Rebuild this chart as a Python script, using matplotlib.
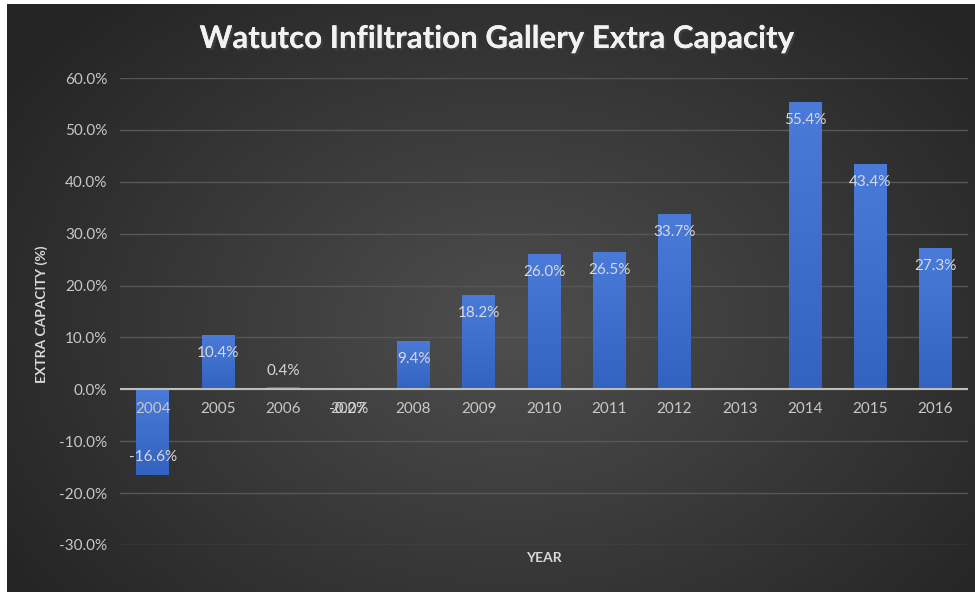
import numpy as np
import matplotlib
matplotlib.use("Agg")
import matplotlib.pyplot as plt
import matplotlib.patheffects as pe
from matplotlib.colors import LinearSegmentedColormap

years = ["2004", "2005", "2006", "2007", "2008", "2009", "2010",
         "2011", "2012", "2013", "2014", "2015", "2016"]
values = [-16.6, 10.4, 0.4, -0.2, 9.4, 18.2, 26.0, 26.5, 33.7, np.nan, 55.4, 43.4, 27.3]
yticks = [-30, -20, -10, 0, 10, 20, 30, 40, 50, 60]

plt.rcParams['font.family'] = ['Lato', 'DejaVu Sans']

W, H = 975, 592
fig = plt.figure(figsize=(W / 100, H / 100), dpi=100)
fig.patch.set_facecolor('white')

# background radial gradient
bg = fig.add_axes([7 / W, 0, 1 - 7 / W, 1 - 4 / H], zorder=-10)
bg.set_axis_off()
yy, xx = np.mgrid[0:1:300j, 0:1:500j]
r = np.sqrt(((xx - 0.52) / 0.62) ** 2 + ((yy - 0.45) / 0.75) ** 2)
r = np.clip(r, 0, 1)
shade = 0x4e / 255 * (1 - r) + 0x25 / 255 * r
img = np.dstack([shade, shade, shade])
bg.imshow(img, aspect='auto', extent=[0, 1, 0, 1], origin='lower')
bg.set_xlim(0, 1)
bg.set_ylim(0, 1)

left, right = 120 / W, 968 / W
top, bottom = 1 - 78 / H, 1 - 545 / H
ax = fig.add_axes([left, bottom, right - left, top - bottom])
ax.set_facecolor('none')

x = np.arange(len(years))
vals = np.array(values, dtype=float)
bars = ax.bar(x, np.nan_to_num(vals), width=0.5, color='#3f6fcc', zorder=3,
              edgecolor='none')

# gradient fill on bars
grad = np.linspace(0, 1, 100).reshape(-1, 1)
cmap = LinearSegmentedColormap.from_list('b', ['#3363c0', '#4a7bd8'])
for b, v in zip(bars, vals):
    if np.isnan(v) or v == 0:
        continue
    x0 = b.get_x()
    w = b.get_width()
    y0, y1 = min(0, v), max(0, v)
    im = ax.imshow(grad, extent=[x0, x0 + w, y0, y1], origin='lower',
                   cmap=cmap, aspect='auto', zorder=4)
    im.set_clip_path(b)

ax.set_xlim(-0.5, len(years) - 0.5)
ax.set_ylim(-30, 60)
ax.set_yticks(yticks)
ax.set_yticklabels([f"{t:.1f}%" for t in yticks])
ax.tick_params(axis='y', length=0, pad=9, labelsize=11, labelcolor='#c8c8c8')
ax.set_xticks([])
for s in ax.spines.values():
    s.set_visible(False)
ax.grid(axis='y', color='#575757', linewidth=1.0, zorder=0)
ax.axhline(0, color='#bdbdbd', linewidth=1.5, zorder=5)

# category labels near zero line
for xi, yr in zip(x, years):
    ax.annotate(yr, (xi, 0), xytext=(0, -20), textcoords='offset pixels',
                ha='center', va='center', fontsize=11, color='#c8c8c8', zorder=6)

# data labels
for xi, v in zip(x, vals):
    if np.isnan(v):
        continue
    if v >= 0:
        off = -18 if v > 3 else 16
    else:
        off = 18 if v < -3 else -19
    ax.annotate(f"{v:.1f}%", (xi, v), xytext=(0, off), textcoords='offset pixels',
                ha='center', va='center', fontsize=11, color='#d9d9d9', zorder=7)

fig.text(497 / W, 1 - 39 / H, "Watutco Infiltration Gallery Extra Capacity",
         ha='center', va='center', fontsize=22.5, fontweight='bold', color='#f2f2f2',
         path_effects=[pe.withSimplePatchShadow(offset=(1.5, -1.5), alpha=0.6),
                       pe.Normal()])
fig.text(42 / W, 1 - 314 / H, "EXTRA CAPACITY (%)", rotation=90,
         ha='center', va='center', fontsize=10, fontweight='bold', color='#d9d9d9')
fig.text(544 / W, 1 - 558 / H, "YEAR", ha='center', va='center',
         fontsize=10, fontweight='bold', color='#d9d9d9')

fig.savefig("out.png", dpi=100, facecolor='white')
